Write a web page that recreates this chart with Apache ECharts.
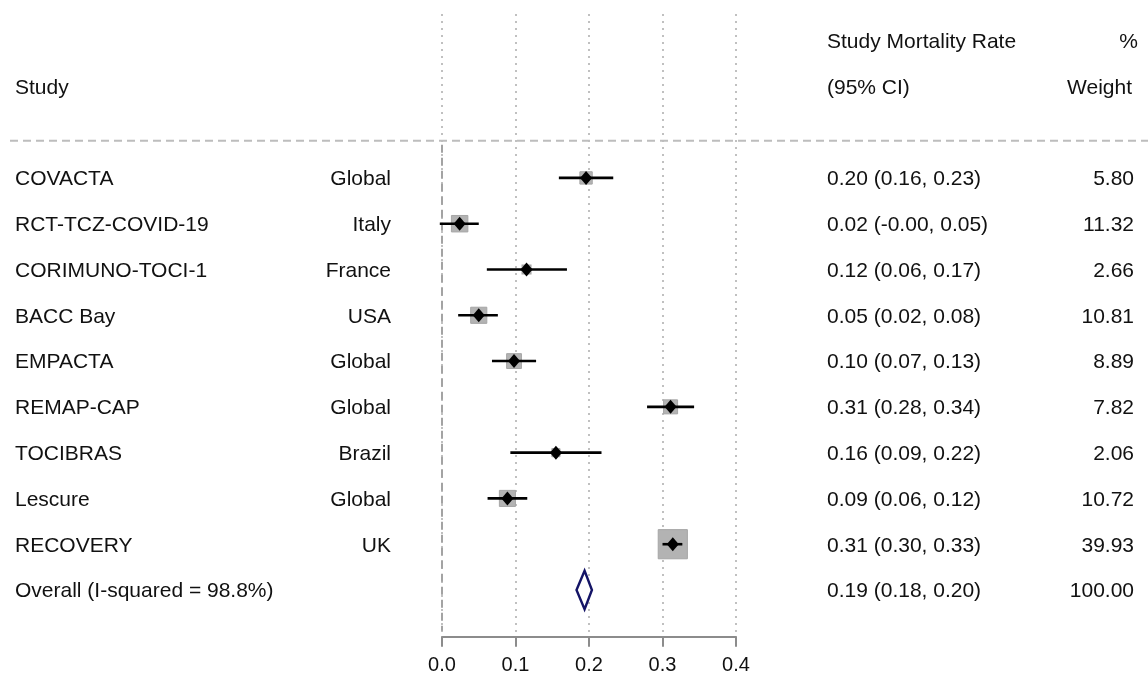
<!DOCTYPE html>
<html>
<head>
<meta charset="utf-8">
<script src="https://cdn.jsdelivr.net/npm/echarts@6/dist/echarts.min.js"></script>
<style>
  html, body { margin: 0; padding: 0; background: #fff; }
  #main { width: 1148px; height: 677px; }
</style>
</head>
<body>
<div id="main"></div>
<script>
// ---------------- data ----------------
var studies = ['COVACTA', 'RCT-TCZ-COVID-19', 'CORIMUNO-TOCI-1', 'BACC Bay', 'EMPACTA', 'REMAP-CAP', 'TOCIBRAS', 'Lescure', 'RECOVERY'];
var countries = ['Global', 'Italy', 'France', 'USA', 'Global', 'Global', 'Brazil', 'Global', 'UK'];
var estimates = [0.196, 0.024, 0.115, 0.050, 0.098, 0.311, 0.155, 0.089, 0.314];
var lowerCI  = [0.159, -0.003, 0.061, 0.022, 0.068, 0.279, 0.093, 0.062, 0.300];
var upperCI  = [0.233, 0.050, 0.170, 0.076, 0.128, 0.343, 0.217, 0.116, 0.327];
var weights = [5.80, 11.32, 2.66, 10.81, 8.89, 7.82, 2.06, 10.72, 39.93];
var ciTexts = ['0.20 (0.16, 0.23)', '0.02 (-0.00, 0.05)', '0.12 (0.06, 0.17)', '0.05 (0.02, 0.08)', '0.10 (0.07, 0.13)', '0.31 (0.28, 0.34)', '0.16 (0.09, 0.22)', '0.09 (0.06, 0.12)', '0.31 (0.30, 0.33)'];
var weightTexts = ['5.80', '11.32', '2.66', '10.81', '8.89', '7.82', '2.06', '10.72', '39.93'];
var overallLabel = 'Overall (I-squared = 98.8%)';
var overallEst = 0.194, overallLo = 0.183, overallHi = 0.204;
var overallCIText = '0.19 (0.18, 0.20)';
var overallWeightText = '100.00';
var headerStudy = ['Study'];
var headerMid = ['Study Mortality Rate', '(95% CI)'];
var headerPct = ['%'];
var headerWeight = ['Weight'];

// ---------------- layout / style ----------------
var FAMILY = '"Liberation Sans", Arial, sans-serif';
var FONT = '21px ' + FAMILY;
var TXT = '#111111';
var nStudies = studies.length;
var overallRow = nStudies;
var headerLineRow = -0.81;

var chart = echarts.init(document.getElementById('main'), null, { renderer: 'canvas' });

function textSeries(rows, texts, xPix, align) {
  return {
    type: 'custom',
    silent: true,
    clip: false,
    z: 5,
    data: rows.map(function (r, i) { return [0, r, i]; }),
    renderItem: function (params, api) {
      var y = api.coord([0, api.value(1)])[1] + 1.5;
      return {
        type: 'text',
        x: xPix, y: y,
        style: { text: texts[api.value(2)], font: FONT, fill: TXT, align: align, verticalAlign: 'middle' }
      };
    }
  };
}

var rows = studies.map(function (_, i) { return i; });

var option = {
  animation: false,
  backgroundColor: '#ffffff',
  grid: { left: 442, right: 412, top: 14, bottom: 40.3, containLabel: false },
  xAxis: {
    type: 'value', min: 0, max: 0.4, interval: 0.1,
    axisLine: { show: true, onZero: false, lineStyle: { color: '#8c8c8c', width: 2 } },
    axisTick: { show: true, length: 10, lineStyle: { color: '#8c8c8c', width: 2 } },
    axisLabel: { color: TXT, fontSize: 20, fontFamily: FAMILY, margin: 19,
      formatter: function (v) { return v.toFixed(1); } },
    splitLine: { show: true, lineStyle: { color: '#c0c0c0', width: 2, type: [2, 5] } }
  },
  yAxis: {
    type: 'value', inverse: true, min: -3.58, max: 10.02,
    show: false, splitLine: { show: false }
  },
  series: [
    // zero reference line (dashed, below header)
    {
      type: 'custom', silent: true, clip: false, z: 3,
      data: [[0, headerLineRow]],
      renderItem: function (params, api) {
        var p1 = api.coord([0, api.value(1)]);
        var bottom = params.coordSys.y + params.coordSys.height - 6;
        return { type: 'line', shape: { x1: p1[0], y1: p1[1] + 4, x2: p1[0], y2: bottom },
          style: { stroke: '#a3a3a3', lineWidth: 2, lineDash: [8, 5] } };
      }
    },
    // header dashed line
    {
      type: 'custom', silent: true, clip: false, z: 1,
      data: [[0, headerLineRow]],
      renderItem: function (params, api) {
        var y = api.coord([0, api.value(1)])[1];
        return { type: 'line', shape: { x1: 10, y1: y, x2: 1148, y2: y },
          style: { stroke: '#bdbdbd', lineWidth: 2, lineDash: [8, 5] } };
      }
    },
    // weight boxes
    {
      type: 'scatter', silent: true, z: 2,
      symbol: 'rect',
      data: estimates.map(function (e, i) { return [e, i, weights[i]]; }),
      symbolSize: function (v) { var s = 2 + 4.3 * Math.sqrt(v[2]); return [s, s]; },
      itemStyle: { color: '#b3b3b3', opacity: 1, borderColor: '#a6a6a6', borderWidth: 1 }
    },
    // CI lines
    {
      type: 'custom', silent: true, clip: false, z: 3,
      data: rows.map(function (i) { return [lowerCI[i], upperCI[i], i]; }),
      renderItem: function (params, api) {
        var a = api.coord([api.value(0), api.value(2)]);
        var b = api.coord([api.value(1), api.value(2)]);
        return { type: 'line', shape: { x1: a[0], y1: a[1], x2: b[0], y2: b[1] },
          style: { stroke: '#000', lineWidth: 2.6 } };
      }
    },
    // point estimates
    {
      type: 'scatter', silent: true, z: 4,
      symbol: 'diamond', symbolSize: [12, 14],
      data: estimates.map(function (e, i) { return [e, i]; }),
      itemStyle: { color: '#000', opacity: 1 }
    },
    // overall diamond
    {
      type: 'custom', silent: true, clip: false, z: 4,
      data: [[overallLo, overallEst, overallHi, overallRow]],
      renderItem: function (params, api) {
        var r = api.value(3), h = 0.42;
        var pts = [
          api.coord([api.value(0), r]),
          api.coord([api.value(1), r - h]),
          api.coord([api.value(2), r]),
          api.coord([api.value(1), r + h])
        ];
        return { type: 'polygon', shape: { points: pts },
          style: { fill: '#ffffff', stroke: '#141466', lineWidth: 2.4 } };
      }
    },
    // text columns
    textSeries(rows.concat([overallRow]), studies.concat([overallLabel]), 15, 'left'),
    textSeries(rows, countries, 391, 'right'),
    textSeries(rows.concat([overallRow]), ciTexts.concat([overallCIText]), 827, 'left'),
    textSeries(rows.concat([overallRow]), weightTexts.concat([overallWeightText]), 1134, 'right'),
    textSeries([-2], headerStudy, 15, 'left'),
    textSeries([-3, -2], headerMid, 827, 'left'),
    textSeries([-3], headerPct, 1138, 'right'),
    textSeries([-2], headerWeight, 1132, 'right')
  ]
};
chart.setOption(option);
</script>
</body>
</html>
